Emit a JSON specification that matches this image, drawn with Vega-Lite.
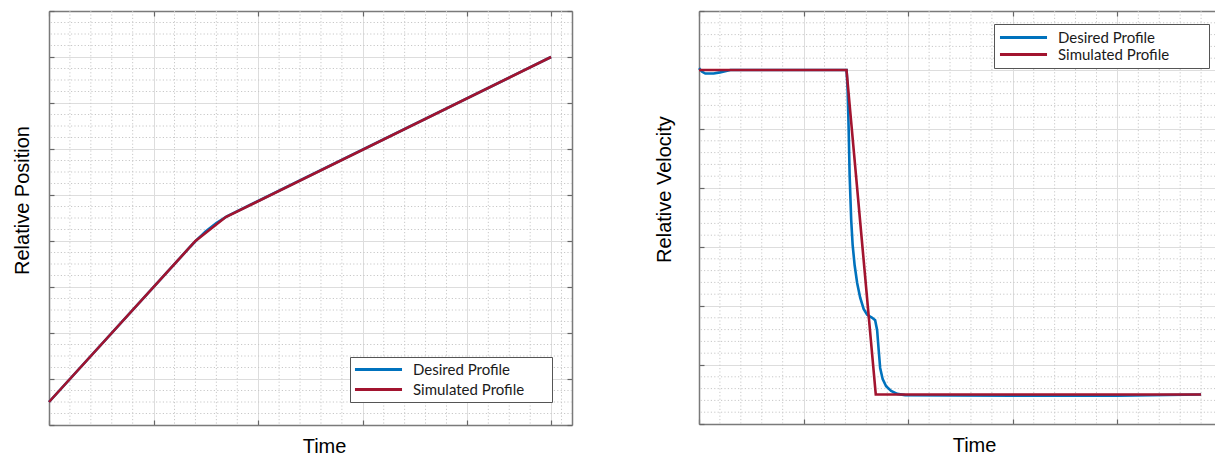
{
  "$schema": "https://vega.github.io/schema/vega-lite/v6.json",
  "padding": {"left": 12, "top": 10, "right": 0, "bottom": 0},
  "bounds": "flush",
  "spacing": 127,
  "resolve": {"scale": {"color": "independent"}, "legend": {"color": "independent"}},
  "config": {
    "view": {"stroke": null},
    "axis": {
      "labels": false,
      "domainColor": "#7a7a7a",
      "domainWidth": 1.5,
      "tickColor": "#666666",
      "tickWidth": 1.2,
      "tickSize": -5,
      "gridColor": "#dddddd",
      "gridWidth": 1,
      "titleFont": "Liberation Sans",
      "titleFontSize": 20,
      "titleFontWeight": "normal",
      "titleColor": "#000000"
    },
    "legend": {
      "symbolSize": 196,
      "symbolStrokeWidth": 3,
      "labelFont": "Lato",
      "labelFontSize": 15,
      "labelColor": "#1a1a1a",
      "labelLimit": 400,
      "strokeColor": "#555555",
      "fillColor": "#ffffff",
      "symbolOffset": 16,
      "labelOffset": 26
    }
  },
  "datasets": {
    "pos": [
      {"t": 0, "p": 0.5, "series": "Desired Profile"},
      {"t": 1.35, "p": 3.875, "series": "Desired Profile"},
      {"t": 1.42, "p": 4.04, "series": "Desired Profile"},
      {"t": 1.5, "p": 4.21, "series": "Desired Profile"},
      {"t": 1.6, "p": 4.39, "series": "Desired Profile"},
      {"t": 1.7, "p": 4.535, "series": "Desired Profile"},
      {"t": 4.8, "p": 8.0, "series": "Desired Profile"},
      {"t": 0, "p": 0.5, "series": "Simulated Profile"},
      {"t": 1.4, "p": 4.0, "series": "Simulated Profile"},
      {"t": 1.69, "p": 4.52, "series": "Simulated Profile"},
      {"t": 4.8, "p": 8.0, "series": "Simulated Profile"}
    ],
    "vel": [
      {"t": 0, "v": 6.03, "series": "Desired Profile"},
      {"t": 0.03, "v": 5.97, "series": "Desired Profile"},
      {"t": 0.06, "v": 5.94, "series": "Desired Profile"},
      {"t": 0.14, "v": 5.94, "series": "Desired Profile"},
      {"t": 0.2, "v": 5.96, "series": "Desired Profile"},
      {"t": 0.3, "v": 6.0, "series": "Desired Profile"},
      {"t": 1.411, "v": 6.0, "series": "Desired Profile"},
      {"t": 1.421, "v": 5.66, "series": "Desired Profile"},
      {"t": 1.431, "v": 4.98, "series": "Desired Profile"},
      {"t": 1.44, "v": 4.22, "series": "Desired Profile"},
      {"t": 1.455, "v": 3.46, "series": "Desired Profile"},
      {"t": 1.469, "v": 3.03, "series": "Desired Profile"},
      {"t": 1.488, "v": 2.69, "series": "Desired Profile"},
      {"t": 1.512, "v": 2.39, "series": "Desired Profile"},
      {"t": 1.541, "v": 2.14, "series": "Desired Profile"},
      {"t": 1.574, "v": 1.95, "series": "Desired Profile"},
      {"t": 1.608, "v": 1.85, "series": "Desired Profile"},
      {"t": 1.656, "v": 1.8, "series": "Desired Profile"},
      {"t": 1.684, "v": 1.76, "series": "Desired Profile"},
      {"t": 1.703, "v": 1.59, "series": "Desired Profile"},
      {"t": 1.718, "v": 1.25, "series": "Desired Profile"},
      {"t": 1.732, "v": 0.95, "series": "Desired Profile"},
      {"t": 1.756, "v": 0.76, "series": "Desired Profile"},
      {"t": 1.789, "v": 0.64, "series": "Desired Profile"},
      {"t": 1.837, "v": 0.56, "series": "Desired Profile"},
      {"t": 1.895, "v": 0.51, "series": "Desired Profile"},
      {"t": 1.971, "v": 0.49, "series": "Desired Profile"},
      {"t": 3.0, "v": 0.48, "series": "Desired Profile"},
      {"t": 4.0, "v": 0.48, "series": "Desired Profile"},
      {"t": 4.8, "v": 0.5, "series": "Desired Profile"},
      {"t": 0, "v": 6.0, "series": "Simulated Profile"},
      {"t": 1.41, "v": 6.0, "series": "Simulated Profile"},
      {"t": 1.69, "v": 0.5, "series": "Simulated Profile"},
      {"t": 4.8, "v": 0.5, "series": "Simulated Profile"}
    ],
    "posMinorX": [
      {"g": 0.2}, {"g": 0.4}, {"g": 0.6}, {"g": 0.8},
      {"g": 1.2}, {"g": 1.4}, {"g": 1.6}, {"g": 1.8},
      {"g": 2.2}, {"g": 2.4}, {"g": 2.6}, {"g": 2.8},
      {"g": 3.2}, {"g": 3.4}, {"g": 3.6}, {"g": 3.8},
      {"g": 4.2}, {"g": 4.4}, {"g": 4.6}, {"g": 4.9}
    ],
    "posMinorY": [
      {"g": 0.25}, {"g": 0.5}, {"g": 0.75}, {"g": 1.25}, {"g": 1.5}, {"g": 1.75},
      {"g": 2.25}, {"g": 2.5}, {"g": 2.75}, {"g": 3.25}, {"g": 3.5}, {"g": 3.75},
      {"g": 4.25}, {"g": 4.5}, {"g": 4.75}, {"g": 5.25}, {"g": 5.5}, {"g": 5.75},
      {"g": 6.25}, {"g": 6.5}, {"g": 6.75}, {"g": 7.25}, {"g": 7.5}, {"g": 7.75},
      {"g": 8.25}, {"g": 8.5}, {"g": 8.75}
    ],
    "velMinorX": [
      {"g": 0.2}, {"g": 0.4}, {"g": 0.6}, {"g": 0.8},
      {"g": 1.2}, {"g": 1.4}, {"g": 1.6}, {"g": 1.8},
      {"g": 2.2}, {"g": 2.4}, {"g": 2.6}, {"g": 2.8},
      {"g": 3.2}, {"g": 3.4}, {"g": 3.6}, {"g": 3.8},
      {"g": 4.2}, {"g": 4.4}, {"g": 4.6}, {"g": 4.8}
    ],
    "velMinorY": [
      {"g": 0.2}, {"g": 0.4}, {"g": 0.6}, {"g": 0.8},
      {"g": 1.2}, {"g": 1.4}, {"g": 1.6}, {"g": 1.8},
      {"g": 2.2}, {"g": 2.4}, {"g": 2.6}, {"g": 2.8},
      {"g": 3.2}, {"g": 3.4}, {"g": 3.6}, {"g": 3.8},
      {"g": 4.2}, {"g": 4.4}, {"g": 4.6}, {"g": 4.8},
      {"g": 5.2}, {"g": 5.4}, {"g": 5.6}, {"g": 5.8},
      {"g": 6.2}, {"g": 6.4}, {"g": 6.6}, {"g": 6.8}
    ]
  },
  "hconcat": [
    {
      "width": 523,
      "height": 414,
      "resolve": {"axis": {"x": "independent", "y": "independent"}},
      "layer": [
        {
          "data": {"name": "posMinorX"},
          "mark": {"type": "rule", "color": "#c8c8c8", "strokeDash": [1.2, 2.2], "strokeWidth": 1},
          "encoding": {
            "x": {
              "field": "g", "type": "quantitative",
              "scale": {"domain": [0, 5], "nice": false, "zero": false},
              "axis": {"orient": "top", "values": [0, 1, 2, 3, 4, 4.8], "grid": false, "title": null}
            }
          }
        },
        {
          "data": {"name": "posMinorY"},
          "mark": {"type": "rule", "color": "#c8c8c8", "strokeDash": [1.2, 2.2], "strokeWidth": 1},
          "encoding": {
            "y": {
              "field": "g", "type": "quantitative",
              "scale": {"domain": [0, 9], "nice": false, "zero": false},
              "axis": {"orient": "right", "values": [0, 1, 2, 3, 4, 5, 6, 7, 8, 9], "grid": false, "title": null}
            }
          }
        },
        {
          "data": {"name": "pos"},
          "mark": {"type": "line", "strokeWidth": 2.6},
          "encoding": {
            "x": {
              "field": "t", "type": "quantitative",
              "scale": {"domain": [0, 5], "nice": false, "zero": false},
              "axis": {
                "orient": "bottom", "values": [0, 1, 2, 3, 4, 4.8], "grid": true,
                "title": "Time", "titleX": 275, "titleY": 27,
                "titleAlign": "center", "titleBaseline": "alphabetic"
              }
            },
            "y": {
              "field": "p", "type": "quantitative",
              "scale": {"domain": [0, 9], "nice": false, "zero": false},
              "axis": {
                "orient": "left", "values": [0, 1, 2, 3, 4, 5, 6, 7, 8, 9], "grid": true,
                "title": "Relative Position", "titleX": -21, "titleY": 189,
                "titleAngle": 270, "titleAlign": "center", "titleBaseline": "alphabetic"
              }
            },
            "color": {
              "field": "series", "type": "nominal",
              "scale": {"domain": ["Desired Profile", "Simulated Profile"], "range": ["#0072BD", "#A2142F"]},
              "legend": {
                "title": null, "orient": "none", "legendX": 301, "legendY": 346,
                "symbolType": "M-3.36,0H3.36", "padding": 4, "rowPadding": 3,
                "labelExpr": "datum.label + '\u00a0\u00a0\u00a0\u00a0\u00a0\u00a0\u200b'"
              }
            }
          }
        }
      ]
    },
    {
      "width": 523,
      "height": 413,
      "resolve": {"axis": {"x": "independent", "y": "independent"}},
      "layer": [
        {
          "data": {"name": "velMinorX"},
          "mark": {"type": "rule", "color": "#c8c8c8", "strokeDash": [1.2, 2.2], "strokeWidth": 1},
          "encoding": {
            "x": {
              "field": "g", "type": "quantitative",
              "scale": {"domain": [0, 5], "nice": false, "zero": false},
              "axis": {"orient": "top", "values": [0, 1, 2, 3, 4, 5], "grid": false, "title": null}
            }
          }
        },
        {
          "data": {"name": "velMinorY"},
          "mark": {"type": "rule", "color": "#c8c8c8", "strokeDash": [1.2, 2.2], "strokeWidth": 1},
          "encoding": {
            "y": {
              "field": "g", "type": "quantitative",
              "scale": {"domain": [0, 7], "nice": false, "zero": false},
              "axis": {"orient": "right", "values": [0, 1, 2, 3, 4, 5, 6, 7], "grid": false, "title": null}
            }
          }
        },
        {
          "data": {"name": "vel"},
          "mark": {"type": "line", "strokeWidth": 2.6},
          "encoding": {
            "x": {
              "field": "t", "type": "quantitative",
              "scale": {"domain": [0, 5], "nice": false, "zero": false},
              "axis": {
                "orient": "bottom", "values": [0, 1, 2, 3, 4, 5], "grid": true,
                "title": "Time", "titleX": 275, "titleY": 27,
                "titleAlign": "center", "titleBaseline": "alphabetic"
              }
            },
            "y": {
              "field": "v", "type": "quantitative",
              "scale": {"domain": [0, 7], "nice": false, "zero": false},
              "axis": {
                "orient": "left", "values": [0, 1, 2, 3, 4, 5, 6, 7], "grid": true,
                "title": "Relative Velocity", "titleX": -29, "titleY": 178,
                "titleAngle": 270, "titleAlign": "center", "titleBaseline": "alphabetic"
              }
            },
            "color": {
              "field": "series", "type": "nominal",
              "scale": {"domain": ["Desired Profile", "Simulated Profile"], "range": ["#0072BD", "#A2142F"]},
              "legend": {
                "title": null, "orient": "none", "legendX": 295, "legendY": 13,
                "symbolType": "M-3.36,0H3.36", "padding": 5, "rowPadding": 0,
                "labelExpr": "datum.label + '\u00a0\u00a0\u00a0\u00a0\u00a0\u00a0\u00a0\u00a0\u00a0\u200b'"
              }
            }
          }
        }
      ]
    }
  ]
}
